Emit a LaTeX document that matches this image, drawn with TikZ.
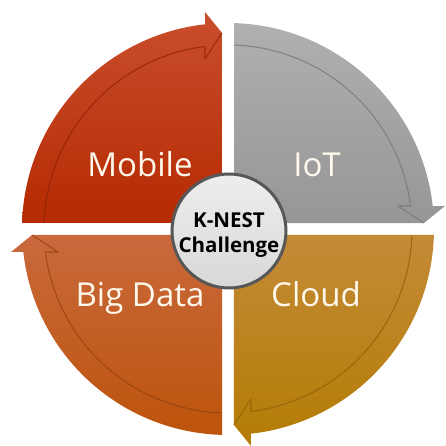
\documentclass[tikz,border=0pt]{standalone}
\usepackage{fontspec}
\setmainfont{Open Sans}
\begin{document}
\begin{tikzpicture}[x=1pt,y=1pt]
\definecolor{mobtop}{HTML}{C94E2D}
\definecolor{mobbot}{HTML}{B52A02}
\definecolor{mobline}{HTML}{8A2005}
\definecolor{iottop}{HTML}{B0B0B0}
\definecolor{iotbot}{HTML}{969696}
\definecolor{iotline}{HTML}{737373}
\definecolor{bigtop}{HTML}{C9693C}
\definecolor{bigbot}{HTML}{BD540C}
\definecolor{bigline}{HTML}{8E3F0C}
\definecolor{cldtop}{HTML}{C48A38}
\definecolor{cldbot}{HTML}{B47C04}
\definecolor{cldline}{HTML}{8A5E06}
\definecolor{labeltext}{HTML}{FFF8EC}
\definecolor{hubfill}{HTML}{E6E6E6}
\definecolor{hubedge}{HTML}{575757}
\tikzset{
  seglabel/.style={text=labeltext, font=\fontsize{33}{36}\selectfont, anchor=base, inner sep=0pt},
  hubtext/.style={text=black, font=\bfseries\fontsize{20.5}{24}\selectfont, anchor=base, inner sep=0pt},
  innerline/.style={line width=1.1pt, opacity=0.7, line join=round}
}
\newcommand\quadseg[4]{%
  \path[top color=#2, bottom color=#3]
    ({#1+135}:8.485) -- ({#1+178.33}:206)
    arc[start angle={#1+178.33}, end angle={#1+96.41}, radius=206]
    -- ({#1+96.05}:218.2) -- ({#1+91.75}:196.1) -- cycle;
  \draw[innerline, draw=#4]
    ({#1+178.13}:184)
    arc[start angle={#1+178.13}, end angle={#1+97.18}, radius=184]
    -- ({#1+97.70}:171.55) -- ({#1+91.75}:196.1);
}
\useasboundingbox (-228,-217) rectangle (217,229);
\quadseg{0}{mobtop}{mobbot}{mobline}
\quadseg{-90}{iottop}{iotbot}{iotline}
\quadseg{-180}{cldtop}{cldbot}{cldline}
\quadseg{-270}{bigtop}{bigbot}{bigline}
\node[seglabel] (mobile) at (-88,52) {Mobile};
\node[seglabel] (iot) at (89,52) {IoT};
\node[seglabel] (bigdata) at (-88,-78) {Big Data};
\node[seglabel] (cloud) at (88,-78) {Cloud};
\node[circle, minimum size=114pt, inner sep=0pt, draw=hubedge, line width=3pt,
      top color=hubfill!70!white, bottom color=hubfill!94!black] (hub) at (1,-2) {};
\node[hubtext] (knest) at (1,1) {K-NEST};
\node[hubtext] (challenge) at (1,-24) {Challenge};
\end{tikzpicture}
\end{document}
